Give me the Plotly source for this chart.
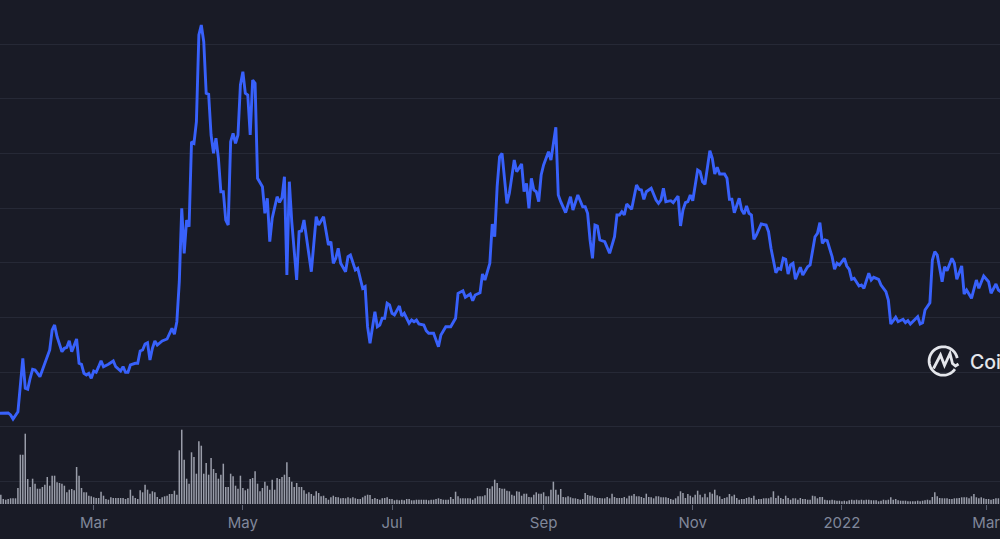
import numpy as np
import pandas as pd
import plotly.graph_objects as go

# ---------------- data ----------------
start_date = pd.Timestamp("2021-01-21")

# price (day offset from start_date, value)
price_days = [
    0, 4, 5, 6, 8, 9, 10, 11, 12, 13,
    14, 15, 17, 21, 22, 23, 24, 26, 27, 28,
    29, 30, 31, 32, 33, 34, 35, 36, 37, 38,
    39, 40, 41, 42, 43, 45, 47, 48, 50, 51,
    52, 53, 54, 56, 57, 58, 59, 60, 61, 62,
    63, 64, 65, 67, 69, 70, 71, 72, 73, 74,
    75, 76, 77, 78, 79, 80, 81, 82, 83, 84,
    85, 86, 87, 88, 89, 90, 91, 92, 93, 94,
    95, 96, 97, 98, 99, 100, 101, 102, 103, 104,
    105, 106, 108, 109, 110, 111, 112, 114, 115, 116,
    117, 118, 119, 120, 122, 123, 124, 125, 128, 130,
    131, 133, 135, 136, 137, 138, 139, 140, 142, 143,
    144, 146, 147, 149, 150, 151, 152, 154, 155, 156,
    157, 158, 159, 160, 161, 162, 164, 165, 166, 168,
    169, 170, 171, 172, 174, 175, 176, 178, 180, 181,
    183, 185, 187, 188, 190, 191, 193, 194, 195, 197,
    198, 199, 201, 202, 203, 204, 205, 206, 207, 208,
    209, 211, 212, 213, 214, 215, 216, 217, 218, 219,
    220, 221, 222, 223, 225, 226, 227, 228, 229, 230,
    232, 233, 234, 235, 237, 239, 240, 241, 242, 243,
    244, 245, 246, 248, 250, 252, 253, 254, 255, 256,
    257, 259, 261, 262, 263, 264, 265, 267, 269, 270,
    271, 272, 273, 275, 276, 278, 279, 280, 281, 282,
    283, 284, 286, 287, 288, 289, 291, 292, 293, 294,
    295, 297, 298, 299, 300, 301, 303, 304, 305, 306,
    307, 308, 309, 310, 312, 314, 315, 316, 318, 319,
    320, 321, 322, 323, 324, 325, 326, 328, 329, 331,
    332, 334, 335, 336, 337, 338, 339, 341, 342, 343,
    344, 346, 347, 348, 349, 350, 352, 353, 354, 356,
    357, 358, 360, 361, 363, 364, 365, 367, 368, 370,
    371, 372, 373, 376, 377, 378, 379, 381, 382, 383,
    384, 385, 386, 387, 388, 390, 391, 392, 394, 395,
    396, 398, 400, 401, 403, 405, 406, 408, 409, 410,
]
price_values = [
    0.907, 0.91, 0.89, 0.85, 0.923, 1.223, 1.457, 1.157, 1.147, 1.257,
    1.347, 1.34, 1.273, 1.54, 1.74, 1.79, 1.673, 1.523, 1.557, 1.567,
    1.633, 1.523, 1.59, 1.65, 1.407, 1.397, 1.307, 1.29, 1.307, 1.257,
    1.33, 1.317, 1.373, 1.433, 1.373, 1.397, 1.43, 1.373, 1.33, 1.373,
    1.317, 1.317, 1.39, 1.407, 1.407, 1.53, 1.54, 1.60, 1.613, 1.44,
    1.557, 1.63, 1.59, 1.63, 1.65, 1.707, 1.757, 1.697, 1.823, 2.223,
    2.957, 2.507, 2.84, 2.773, 3.623, 3.607, 3.823, 4.69, 4.79, 4.623,
    4.107, 4.097, 3.69, 3.507, 3.657, 3.457, 3.123, 3.123, 2.84, 2.79,
    3.623, 3.707, 3.607, 3.69, 4.19, 4.323, 4.107, 4.09, 3.69, 4.24,
    4.207, 3.257, 3.173, 2.907, 3.057, 2.623, 2.857, 3.073, 3.017, 3.063,
    3.273, 2.29, 3.223, 2.823, 2.24, 2.723, 2.73, 2.84, 2.323, 2.873,
    2.79, 2.873, 2.59, 2.623, 2.407, 2.457, 2.557, 2.407, 2.323, 2.473,
    2.49, 2.34, 2.357, 2.157, 2.173, 1.773, 1.607, 1.923, 1.773, 1.79,
    1.857, 1.857, 2.007, 1.99, 1.907, 1.89, 1.98, 1.88, 1.907, 1.807,
    1.84, 1.823, 1.84, 1.80, 1.79, 1.733, 1.707, 1.707, 1.573, 1.69,
    1.773, 1.773, 1.857, 2.107, 2.133, 2.067, 2.10, 2.033, 2.09, 2.113,
    2.30, 2.24, 2.407, 2.80, 2.673, 3.173, 3.473, 3.507, 3.273, 3.007,
    3.107, 3.44, 3.323, 3.357, 3.40, 3.123, 3.207, 2.957, 3.257, 3.14,
    3.123, 3.023, 3.29, 3.39, 3.523, 3.44, 3.59, 3.767, 3.09, 3.023,
    2.913, 2.99, 3.073, 2.94, 3.09, 2.973, 2.973, 2.907, 2.64, 2.457,
    2.79, 2.78, 2.64, 2.623, 2.507, 2.673, 2.89, 2.89, 2.923, 2.89,
    3.00, 2.947, 3.19, 3.147, 3.14, 3.047, 3.123, 3.157, 3.04, 3.007,
    3.04, 3.157, 3.023, 3.033, 3.013, 3.08, 2.78, 2.94, 3.013, 3.023,
    3.09, 3.033, 3.34, 3.323, 3.223, 3.197, 3.533, 3.457, 3.30, 3.367,
    3.30, 3.30, 3.257, 3.047, 3.047, 2.913, 3.057, 2.94, 2.90, 2.98,
    2.907, 2.89, 2.647, 2.69, 2.80, 2.79, 2.723, 2.557, 2.313, 2.357,
    2.347, 2.457, 2.447, 2.30, 2.39, 2.407, 2.247, 2.367, 2.29, 2.373,
    2.39, 2.673, 2.707, 2.813, 2.607, 2.64, 2.633, 2.473, 2.347, 2.407,
    2.39, 2.457, 2.38, 2.347, 2.247, 2.257, 2.18, 2.19, 2.157, 2.307,
    2.24, 2.267, 2.247, 2.19, 2.123, 2.04, 1.80, 1.867, 1.823, 1.847,
    1.813, 1.833, 1.80, 1.873, 1.80, 1.813, 1.94, 2.013, 2.44, 2.523,
    2.49, 2.357, 2.223, 2.373, 2.333, 2.457, 2.407, 2.247, 2.38, 2.10,
    2.14, 2.057, 2.24, 2.157, 2.28, 2.223, 2.107, 2.20, 2.14, 2.123,
]

# daily volume, starting one day after start_date
volume_first_day = 1
volume = [
    9.3, 5, 4.3, 5, 5.7, 5.7, 5.7, 16, 49.3, 49.3,
    70.3, 25, 17, 25.3, 20.3, 15.3, 15.3, 17, 19.3, 27,
    18.3, 28.3, 28.3, 21.7, 21, 20.3, 18.3, 11.7, 14.3, 15,
    13.7, 37, 28.3, 16, 11.7, 11.7, 8.3, 7.7, 6.7, 6,
    6, 12.3, 8.3, 5, 4.3, 6.7, 6, 6, 6, 6,
    6, 5, 6, 14.3, 8.3, 6, 5, 13.7, 11.7, 19.3,
    14.3, 10.3, 12.7, 11.7, 7, 5, 6.7, 7.7, 8.3, 10,
    10, 13.3, 9.3, 53.7, 74.3, 44.3, 25.3, 20.3, 51.7, 47,
    30.3, 62.7, 58.3, 30.3, 41, 29.3, 46, 35, 31, 25.3,
    29.3, 40.3, 17, 17, 30.3, 27.7, 18.3, 15.3, 28.3, 16,
    13.7, 15.3, 25, 26, 32.7, 20.3, 12.7, 16, 22.3, 18.3,
    14.3, 24.3, 14.3, 26, 25, 27, 29.3, 41.7, 27, 22.3,
    17, 21, 17, 17, 13.7, 10.3, 11.7, 10, 8.3, 12.7,
    11, 7.7, 8.3, 6, 4.3, 6.7, 8.3, 7,
    6.7, 5.7, 6, 5.7, 6.7, 5.7, 6.7, 5.7, 5, 5,
    6.7, 8.3, 9.3, 9, 5, 6, 5, 4.3, 5.7, 6,
    6.7, 5, 5, 3.7, 4.3, 3.7, 4.3, 3.7, 5, 5,
    3.7, 3.7, 4.3, 4.3, 4.3, 4.3, 4.3, 3.7, 4.3, 4.3,
    5, 5.7, 5, 4.3, 4.3, 4.3, 7, 5, 12.3, 7.7,
    5.7, 5.7, 5.7, 5.7, 5.7, 4.3, 5.7, 7.7, 7.7, 7.7,
    8.7, 16, 15.3, 17.7, 24.3, 21, 16, 15.3, 15.3, 13.3,
    12.7, 9.3, 8.3, 12.7, 12.3, 8.3, 10.3, 10.3, 7, 6.7,
    9.3, 11.7, 10.3, 10.3, 11.7, 7.7, 7.7, 14.3, 22.3, 14.3,
    9.3, 15, 7, 6.7, 7.7, 6.7, 5.7, 5.7, 5, 4.3,
    5, 11, 9, 8.3, 8.3, 6.7, 6, 6, 5.7, 5.7,
    7, 5.7, 10.3, 7, 6, 6, 6, 7, 5.7, 8.3,
    8.3, 10, 7.7, 7.7, 7, 6, 10.3, 7, 6.7, 5.7,
    7.7, 7.7, 6.7, 6.7, 6.7, 6,
    5, 4.3, 5.7, 7.7, 12.7, 11, 6, 10, 8.3, 6.7,
    9.3, 13.3, 9.3, 6.7, 10.3, 6.7, 11.7, 10.3, 14.3, 8.7,
    7.7, 5, 6, 6.7, 10, 7.7, 9.3, 6, 4.3, 5,
    5, 6, 6.7, 6, 8.3, 4.3, 5, 5, 5.7, 5.7,
    5.7, 6.7, 12.7, 6, 8.3, 6, 5, 8.3, 6, 4.3,
    5.7, 5.7, 4.3, 6, 5, 5, 4.3, 4.3, 8.3, 7.7,
    5.7, 7, 7, 4.3, 3.7, 3.7, 4.3, 3.7, 3.3, 3.3,
    2.7, 3.3, 2.7, 3.7, 4.3, 3.7, 4.3, 3.7, 4.3, 3.7,
    4.3, 4.3, 3.7, 3.7, 3.7, 2.7, 3.3, 4.3, 3.7, 4.3,
    6.7, 4.3, 5, 3.7, 3.3, 3.3, 3.3, 2.7, 2.7, 2.7,
    2.7, 3.3, 2.7, 3.3, 3.7, 4.3, 3.7, 7, 11.7, 7.7,
    6, 5.7, 5.7, 5.7, 5, 5, 5.7, 5.7, 6, 6.7,
    6.7, 6.7, 5.7, 7.7, 10, 6.7, 5.7, 6.7, 5.7, 5,
    5, 4.3, 5, 5.7, 5.7,
]

tick_dates = ["2021-03-01", "2021-05-01", "2021-07-01", "2021-09-01",
              "2021-11-01", "2022-01-01", "2022-03-01"]
tick_labels = ["Mar", "May", "Jul", "Sep", "Nov", "2022", "Mar"]

# ---------------- style ----------------
BG = "#191b26"
GRID = "#262936"
LINE = "#3861fb"
BAR = "rgba(190,194,206,0.78)"
TICK = "#80879a"
WM = "#e4e6eb"

price_dates = [start_date + pd.Timedelta(days=d) for d in price_days]
vol_dates = [start_date + pd.Timedelta(days=volume_first_day + i) for i in range(len(volume))]

fig = go.Figure()
fig.add_trace(go.Bar(
    x=vol_dates, y=volume, yaxis="y2",
    marker=dict(color=BAR, line=dict(width=0)),
    hoverinfo="skip", showlegend=False,
))
fig.add_trace(go.Scatter(
    x=price_dates, y=price_values, mode="lines",
    line=dict(color=LINE, width=2.9, shape="linear"),
    hoverinfo="skip", showlegend=False,
))

W, H = 1000, 539
PLOT_H = 504


def to_paper(px, py):
    return px / W, (PLOT_H - py) / PLOT_H


def path_from(points):
    parts = []
    for i, (px, py) in enumerate(points):
        x, y = to_paper(px, py)
        parts.append(("M" if i == 0 else "L") + f"{x:.5f},{y:.5f}")
    return " ".join(parts)


# watermark logo: ring with a gap + zigzag "m"
cx, cy, r = 943.3, 361.0, 14.2
ang = np.radians(np.linspace(12, 325, 60))
ring = [(cx + r * np.cos(a), cy - r * np.sin(a)) for a in ang]
zig = [(933.5, 368.5), (940.5, 355.0), (944.5, 365.5), (950.0, 353.5),
       (952.5, 363.5), (955.5, 366.0), (958.5, 364.0)]

shapes = [
    dict(type="path", xref="paper", yref="paper", path=path_from(ring),
         line=dict(color=WM, width=2.8), layer="above"),
    dict(type="path", xref="paper", yref="paper", path=path_from(zig),
         line=dict(color=WM, width=2.8), layer="above"),
]

fig.update_layout(
    width=W, height=H,
    margin=dict(l=0, r=0, t=0, b=H - PLOT_H, pad=0),
    paper_bgcolor=BG, plot_bgcolor=BG,
    bargap=0.38,
    showlegend=False,
    font=dict(family="Inter, Roboto, sans-serif"),
    xaxis=dict(
        type="date",
        range=["2021-01-21 16:00", "2022-03-06 16:00"],
        tickmode="array", tickvals=tick_dates, ticktext=tick_labels,
        ticks="outside", ticklen=5, tickwidth=1, tickcolor="#5b6070",
        tickfont=dict(family="Inter", size=15, color=TICK),
        ticklabeloverflow="allow",
        showgrid=False, zeroline=False, showline=False,
        fixedrange=True,
    ),
    yaxis=dict(
        range=[0, 5.04], tick0=0.227, dtick=0.5463,
        showticklabels=False, ticks="",
        showgrid=True, gridcolor=GRID, gridwidth=1,
        zeroline=False, showline=False, fixedrange=True,
    ),
    yaxis2=dict(
        range=[0, 504], overlaying="y", side="right",
        showgrid=False, showticklabels=False, zeroline=False,
        showline=False, ticks="", fixedrange=True,
    ),
    shapes=shapes,
    annotations=[dict(
        text="CoinMarketCap", xref="paper", yref="paper",
        x=968.0 / W, y=(PLOT_H - 362) / PLOT_H,
        xanchor="left", yanchor="middle", showarrow=False,
        font=dict(family="Inter", size=19.5, color=WM, weight=500),
    )],
)

fig.write_html("out.html", config={"displayModeBar": False, "staticPlot": True},
               post_script="document.body.style.margin='0';document.body.style.overflow='hidden';")
